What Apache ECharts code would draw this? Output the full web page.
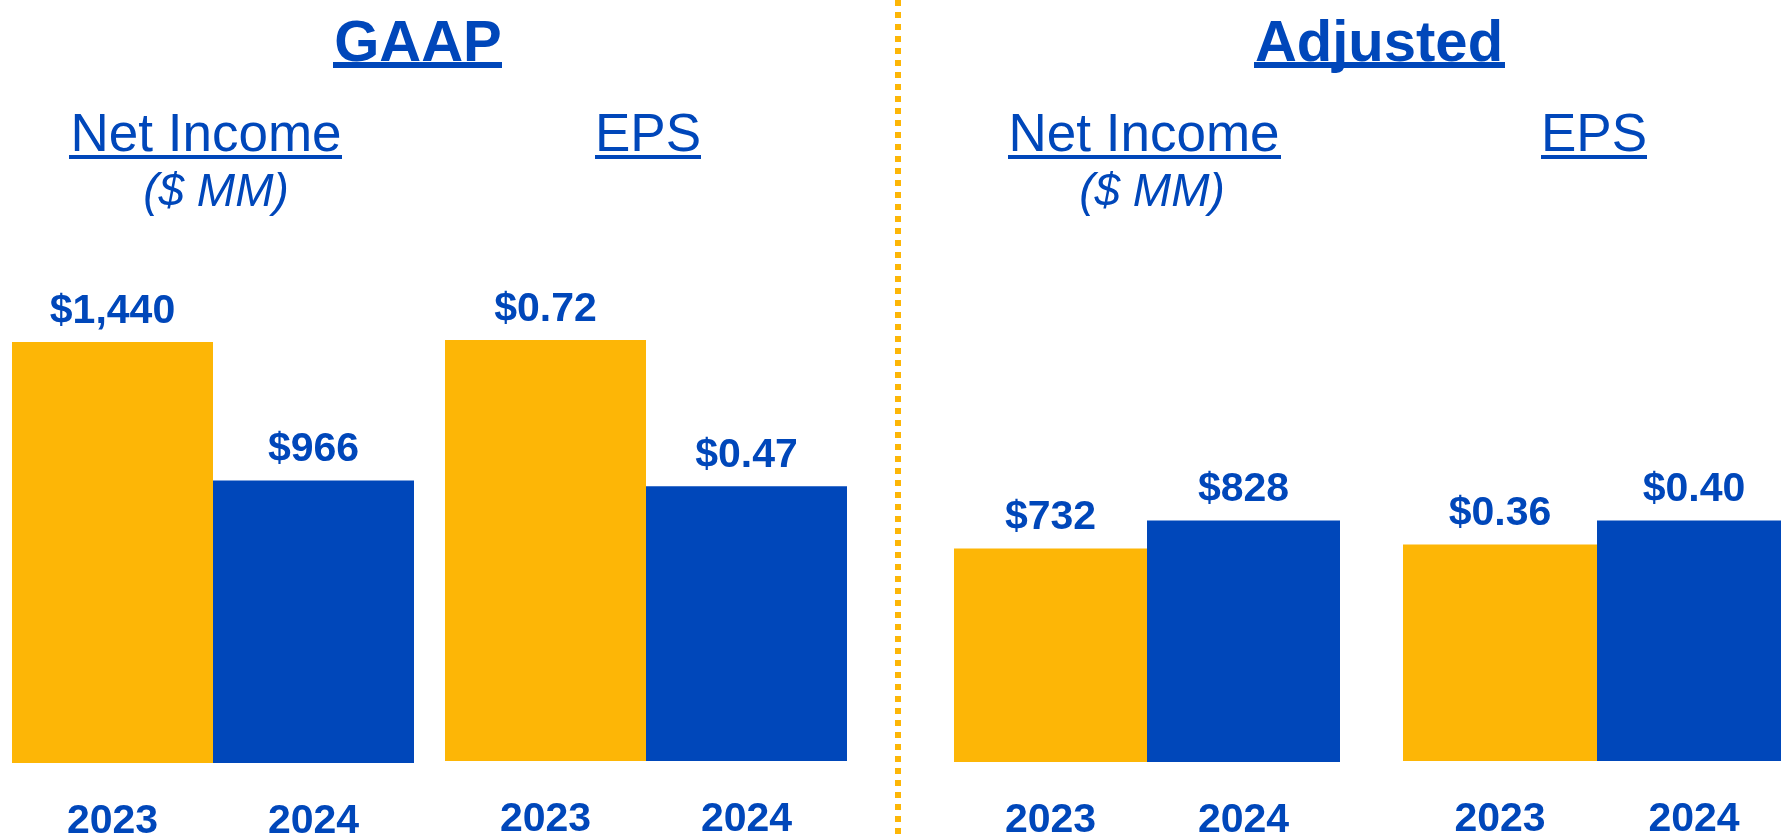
<!DOCTYPE html>
<html>
<head>
<meta charset="utf-8">
<title>GAAP vs Adjusted</title>
<script src="https://cdn.jsdelivr.net/npm/echarts@6/dist/echarts.min.js"></script>
<style>
  html, body { margin: 0; padding: 0; background: #fff; }
  #chart { width: 1781px; height: 837px; }
</style>
</head>
<body>
<div id="chart"></div>
<script>
// data
const years = ['2023', '2024']
const gaapNetIncome = [1440, 966]
const gaapEps = [0.72, 0.47]
const adjNetIncome = [732, 828]
const adjEps = [0.36, 0.40]

const YELLOW = '#FDB606'
const BLUE = '#0047BA'
const FONT = "'Liberation Sans', Arial, sans-serif"
const barColors = [YELLOW, BLUE]

const money = (v) => '$' + v.toLocaleString('en-US')
const eps = (v) => '$' + v.toFixed(2)

// one panel per block of bars
const panels = [
  { data: gaapNetIncome, fmt: money, max: 1440, grid: { left: 12, top: 342, width: 402, height: 421 } },
  { data: gaapEps, fmt: eps, max: 0.72, grid: { left: 445, top: 340, width: 402, height: 421 } },
  { data: adjNetIncome, fmt: money, max: 1440, grid: { left: 954, top: 342, width: 386, height: 420 } },
  { data: adjEps, fmt: eps, max: 0.70, grid: { left: 1403, top: 340, width: 388, height: 421 } }
]

// heading text + underline
function heading(text, x, y, size, bold, ux1, ux2, uy, uh) {
  return [
    {
      type: 'text',
      x: x,
      y: y,
      style: {
        text: text,
        fill: BLUE,
        font: (bold ? 'bold ' : '') + size + 'px ' + FONT,
        align: 'center',
        verticalAlign: 'middle'
      }
    },
    {
      type: 'rect',
      shape: { x: ux1, y: uy, width: ux2 - ux1, height: uh },
      style: { fill: BLUE }
    }
  ]
}

function subNote(text, x, y) {
  return {
    type: 'text',
    x: x,
    y: y,
    style: {
      text: text,
      fill: BLUE,
      font: 'italic 46px ' + FONT,
      align: 'center',
      verticalAlign: 'middle'
    }
  }
}

const chart = echarts.init(document.getElementById('chart'))

chart.setOption({
  animation: false,
  backgroundColor: '#fff',
  // keep the grids where they are even though the year labels run off the bottom
  grid: panels.map((p) => Object.assign({ outerBoundsMode: 'none', containLabel: false }, p.grid)),
  xAxis: panels.map((p, i) => ({
    type: 'category',
    gridIndex: i,
    data: years,
    axisLine: { show: false },
    axisTick: { show: false },
    axisLabel: {
      margin: 38,
      color: BLUE,
      fontFamily: FONT,
      fontWeight: 'bold',
      fontSize: 41
    }
  })),
  yAxis: panels.map((p, i) => ({
    type: 'value',
    gridIndex: i,
    min: 0,
    max: p.max,
    show: false,
    splitLine: { show: false }
  })),
  series: panels.map((p, i) => ({
    type: 'bar',
    xAxisIndex: i,
    yAxisIndex: i,
    barWidth: '100%',
    data: p.data,
    itemStyle: {
      color: (params) => barColors[params.dataIndex]
    },
    label: {
      show: true,
      position: 'top',
      distance: 10,
      color: BLUE,
      fontFamily: FONT,
      fontWeight: 'bold',
      fontSize: 41,
      formatter: (params) => p.fmt(params.value)
    }
  })),
  graphic: [
    // dotted divider
    {
      type: 'line',
      shape: { x1: 898, y1: 0, x2: 898, y2: 837 },
      style: { stroke: YELLOW, lineWidth: 6, lineDash: [6, 6], lineCap: 'butt' }
    },
    ...heading('GAAP', 418, 45, 58, true, 333, 502, 62, 6),
    ...heading('Adjusted', 1379, 45, 58, true, 1254, 1505, 62, 6),
    ...heading('Net Income', 206, 136, 53, false, 69, 342, 155, 4),
    ...heading('EPS', 648, 136, 53, false, 595, 701, 155, 4),
    ...heading('Net Income', 1144, 136, 53, false, 1008, 1281, 155, 4),
    ...heading('EPS', 1594, 136, 53, false, 1541, 1647, 155, 4),
    subNote('($ MM)', 216, 193),
    subNote('($ MM)', 1152, 193)
  ]
})
</script>
</body>
</html>
